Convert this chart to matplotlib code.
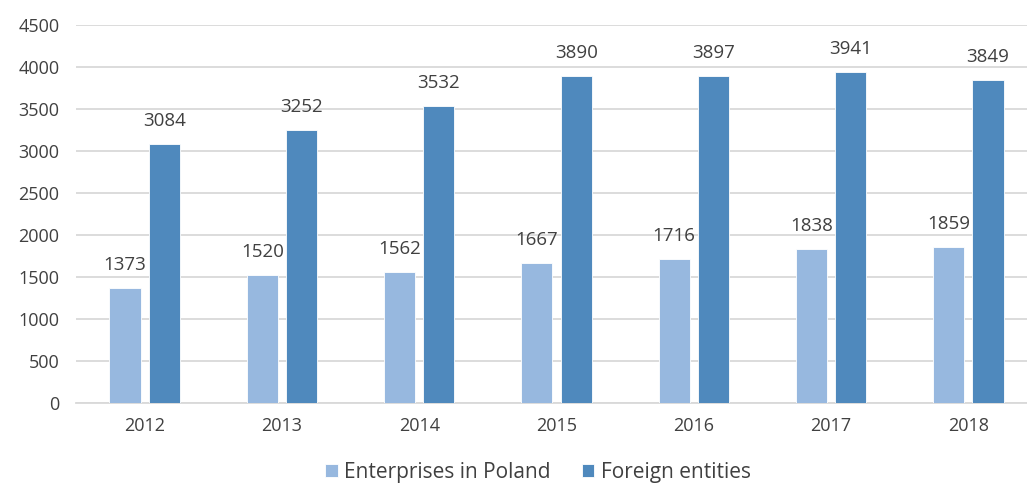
import matplotlib
matplotlib.use("Agg")
import matplotlib.pyplot as plt
import numpy as np

years = ["2012", "2013", "2014", "2015", "2016", "2017", "2018"]
enterprises_poland = [1373, 1520, 1562, 1667, 1716, 1838, 1859]
foreign_entities = [3084, 3252, 3532, 3890, 3897, 3941, 3849]
series_names = ["Enterprises in Poland", "Foreign entities"]

plt.rcParams['font.family'] = ['Open Sans', 'DejaVu Sans']
W, H = 1027, 488
fig = plt.figure(figsize=(W/100, H/100), dpi=100)
left, right, bottom, top = 76, 1037, 403, 25
ax = fig.add_axes([left/W, 1-bottom/H, (right-left)/W, (bottom-top)/H])

x = np.arange(len(years))
w = 0.226
off = 0.143
c_light = "#97B8DF"
c_dark = "#4F89BD"
b1 = ax.bar(x - off, enterprises_poland, w, color=c_light, edgecolor="white", linewidth=0.6, label=series_names[0], zorder=3)
b2 = ax.bar(x + off, foreign_entities, w, color=c_dark, edgecolor="white", linewidth=0.6, label=series_names[1], zorder=3)
for bars in (b1, b2):
    ax.bar_label(bars, padding=10, fontsize=13.5, color="#404040")

ax.set_xlim(-0.5, len(years) - 0.5)
ax.set_ylim(0, 4500)
ax.set_yticks(np.arange(0, 4501, 500))
ax.set_xticks(x)
ax.set_xticklabels(years)
ax.grid(axis="y", color="#D9D9D9", linewidth=1.3, zorder=0)
for s in ["top", "right", "left"]:
    ax.spines[s].set_visible(False)
ax.spines["bottom"].set_color("#D9D9D9")
ax.spines["bottom"].set_linewidth(1.3)
ax.tick_params(axis="both", length=0, labelsize=13, colors="#404040")
ax.tick_params(axis="y", pad=12)
ax.tick_params(axis="x", pad=10)

fig.legend(handles=[b1, b2], labels=series_names, loc="lower center",
           bbox_to_anchor=(538/W, -0.028), ncol=2, frameon=False, fontsize=15,
           handlelength=0.6, handleheight=0.6, handletextpad=0.3, columnspacing=1.5,
           labelcolor="#404040")

fig.savefig("out.png", dpi=100)
